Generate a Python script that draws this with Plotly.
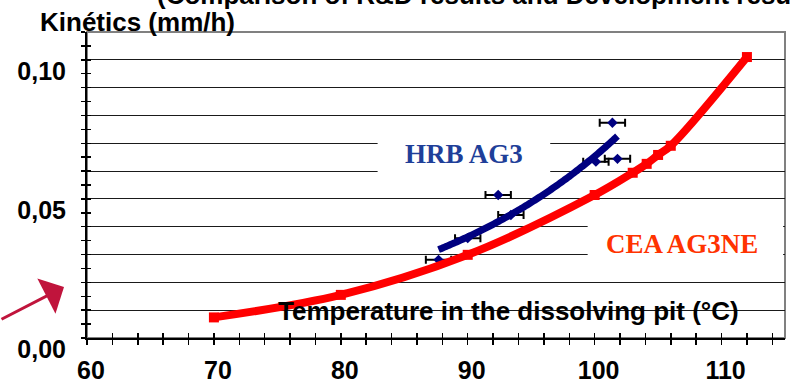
import numpy as np
import plotly.graph_objects as go

# ---------------- data ----------------
cea_temp = [70, 80, 90, 100, 103, 104.1, 105, 106, 112]
cea_kin = [0.0074, 0.0155, 0.0299, 0.0514, 0.0594, 0.0626, 0.0658, 0.0691, 0.1010]

hrb_temp = [87.7, 90.0, 92.4, 93.4, 100.1, 101.4, 101.8]
hrb_kin = [0.0281, 0.0359, 0.0514, 0.0442, 0.0634, 0.0774, 0.0644]
hrb_temp_err = [1, 1, 1, 1, 1, 1, 1]

x_tick_vals = [60, 70, 80, 90, 100, 110]
x_tick_labels = ["60", "70", "80", "90", "100", "110"]
y_tick_vals = [0.00, 0.01, 0.02, 0.03, 0.04, 0.05, 0.06, 0.07, 0.08, 0.09, 0.10, 0.11]
y_tick_labels = ["0,00", "", "", "", "", "0,05", "", "", "", "", "0,10", ""]

title_text = "(Comparison of R&D results and Development results)"
y_title = "Kinétics (mm/h)"
x_title = "Temperature in the dissolving pit (°C)"
hrb_label = "HRB AG3"
cea_label = "CEA AG3NE"

# ---------------- HRB exponential trendline (fitted from the data, as in the original) ----------------
hx = np.array(hrb_temp); hy = np.array(hrb_kin)
b_h, a_h = np.polyfit(hx, np.log(hy), 1)
hrb_fit_x = np.linspace(hx.min(), hx.max(), 120)
hrb_fit_y = np.exp(a_h + b_h * hrb_fit_x)

SANS = "Liberation Sans, Arial, sans-serif"
SERIF = "Liberation Serif, Times New Roman, serif"
NAVY = "#000080"
RED = "#FF0000"

fig = go.Figure()

fig.add_trace(go.Scatter(
    x=hrb_temp, y=hrb_kin, mode="markers",
    marker=dict(symbol="diamond", size=8, color=NAVY),
    error_x=dict(type="data", array=hrb_temp_err, color="black", thickness=2, width=4),
    hoverinfo="skip", showlegend=False))

fig.add_trace(go.Scatter(
    x=hrb_fit_x, y=hrb_fit_y, mode="lines",
    line=dict(color=NAVY, width=7, simplify=False),
    hoverinfo="skip", showlegend=False))

# CEA: smoothed line through the measured points, with square markers
fig.add_trace(go.Scatter(
    x=cea_temp, y=cea_kin, mode="lines+markers",
    line=dict(color=RED, width=8, shape="spline", smoothing=1.0, simplify=False),
    marker=dict(symbol="square", size=10, color=RED),
    hoverinfo="skip", showlegend=False))

# invisible trace that instantiates the overlay axes (used for inward tick marks)
fig.add_trace(go.Scatter(
    x=cea_temp[:1], y=cea_kin[:1], xaxis="x2", yaxis="y2", mode="markers",
    marker=dict(opacity=0), hoverinfo="skip", showlegend=False))

XR = [60, 115]
YR = [0, 0.11]

fig.update_layout(
    template="none",
    width=790, height=385,
    margin=dict(l=87, r=5, t=32, b=47, autoexpand=False),
    paper_bgcolor="white", plot_bgcolor="white",
    showlegend=False,
    xaxis=dict(
        range=XR, tickmode="array", tickvals=x_tick_vals, ticktext=x_tick_labels,
        ticks="outside", ticklen=5, tickwidth=1.5, tickcolor="black",
        minor=dict(tick0=60, dtick=2, ticks="outside", ticklen=5, tickwidth=1.5,
                   tickcolor="black", showgrid=False),
        showline=True, linecolor="black", linewidth=2,
        showgrid=False, zeroline=False, automargin=False,
        tickfont=dict(family=SANS, size=25, color="black", weight="bold"),
        ticklabelstandoff=4, ticklabelshift=4,
    ),
    xaxis2=dict(
        range=XR, overlaying="x", anchor="y", side="bottom",
        tickmode="linear", tick0=60, dtick=2,
        ticks="inside", ticklen=5, tickwidth=1.5, tickcolor="black",
        showticklabels=False, showgrid=False, zeroline=False, showline=False,
        automargin=False,
    ),
    yaxis=dict(
        range=YR, tickmode="array", tickvals=y_tick_vals, ticktext=y_tick_labels,
        ticks="outside", ticklen=4, tickwidth=1.5, tickcolor="black",
        minor=dict(tick0=0, dtick=0.005, ticks="outside", ticklen=4, tickwidth=1.5,
                   tickcolor="black", showgrid=False),
        showline=True, linecolor="black", linewidth=2,
        showgrid=True, gridcolor="#1a1a1a", gridwidth=1, zeroline=False,
        automargin=False,
        tickfont=dict(family=SANS, size=25, color="black", weight="bold"),
        ticklabelstandoff=10, ticklabelshift=11,
    ),
    yaxis2=dict(
        range=YR, overlaying="y", anchor="x", side="left",
        tickmode="linear", tick0=0, dtick=0.005,
        ticks="inside", ticklen=4, tickwidth=1.5, tickcolor="black",
        showticklabels=False, showgrid=False, zeroline=False, showline=False,
        automargin=False,
    ),
    shapes=[
        # white label boxes hiding grid lines behind the series labels
        dict(type="rect", xref="x", yref="y", x0=82.9, x1=96.5, y0=0.0565, y1=0.0735,
             fillcolor="white", line=dict(width=0), layer="between"),
        dict(type="rect", xref="x", yref="y", x0=99.45, x1=114.85, y0=0.025, y1=0.045,
             fillcolor="white", line=dict(width=0), layer="between"),
        # grey plot frame
        dict(type="rect", xref="paper", yref="paper", x0=0, x1=1, y0=0, y1=1,
             line=dict(color="#808080", width=2), fillcolor="rgba(0,0,0,0)", layer="between"),
    ],
    annotations=[
        dict(text=title_text, xref="paper", yref="paper", x=(155 - 87) / 698, y=1.122,
             xanchor="left", yanchor="middle", showarrow=False,
             font=dict(family=SANS, size=26, color="black", weight="bold")),
        dict(text=y_title, xref="paper", yref="paper", x=(38 - 87) / 698, y=1.0327,
             xanchor="left", yanchor="middle", showarrow=False,
             font=dict(family=SANS, size=26, color="black", weight="bold")),
        dict(text=x_title, xref="x", yref="y", x=93.2, y=0.0097,
             xanchor="center", yanchor="middle", showarrow=False,
             font=dict(family=SANS, size=26, color="black", weight="bold")),
        dict(text=hrb_label, xref="x", yref="y", x=89.7, y=0.0662,
             xanchor="center", yanchor="middle", showarrow=False,
             font=dict(family=SERIF, size=27, color="#1F3F99", weight="bold")),
        dict(text=cea_label, xref="x", yref="y", x=106.9, y=0.0338,
             xanchor="center", yanchor="middle", showarrow=False,
             font=dict(family=SERIF, size=27, color="#FF3300", weight="bold")),
        # crimson arrow at lower left
        dict(text="", xref="paper", yref="paper", x=(64 - 87) / 698, y=(338 - 287) / 306,
             ax=-70, ay=33, showarrow=True, arrowhead=1, arrowsize=2.2,
             arrowwidth=3, arrowcolor="#C0143C", standoff=0),
    ],
)

fig.write_html("out.html", config={"displayModeBar": False, "staticPlot": True},
               post_script="document.body.style.margin='0';")
